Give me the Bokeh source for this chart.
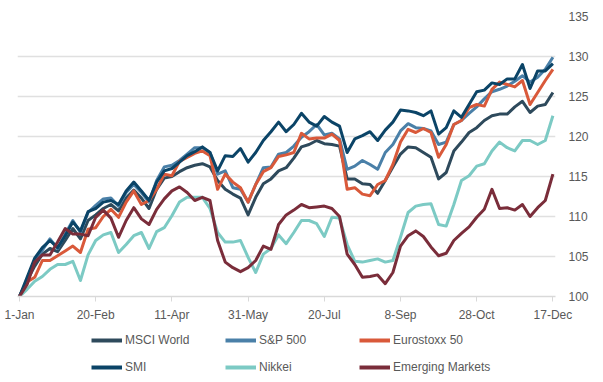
from bokeh.plotting import figure
from bokeh.models import Range1d, FixedTicker, Legend, LegendItem
from bokeh.layouts import column
from bokeh.embed import file_html
from bokeh.resources import INLINE

# calendar day offsets from 1-Jan (every 5 days)
days = list(range(0, 351, 5))

tick_days = [0, 50, 100, 150, 200, 250, 300, 350]
tick_labels = ["1-Jan", "20-Feb", "11-Apr", "31-May", "20-Jul", "8-Sep", "28-Oct", "17-Dec"]
y_ticks = [100, 105, 110, 115, 120, 125, 130, 135]

msci_world = [100, 102, 103.8, 105.3, 106, 105.6, 107, 108.5, 107.2, 109.5,
              110.2, 111, 111.5, 110.7, 112.3, 113.3, 112.3, 111, 113.4, 114.8,
              115, 115.6, 116.1, 116.4, 116.6, 116.2, 114.5, 113.4, 112.8, 112.3,
              110.2, 112.4, 114.1, 114.7, 115.7, 116.1, 117.3, 118.7, 119, 119.5,
              119.1, 119, 118.8, 114.7, 114.7, 114.1, 114, 112.9, 114.5, 116.2,
              117.8, 118.7, 118.6, 118, 117.4, 114.7, 115.5, 118.2, 119.3, 120.5,
              121.1, 122, 122.6, 122.8, 122.8, 123.7, 124.4, 123, 123.8, 124,
              125.5]

sp500 = [100, 102, 104.5, 105.8, 107.2, 106, 107.8, 109.5, 108, 110.5,
         111.4, 112.2, 112.3, 111.3, 113, 114, 113, 111.8, 114.5, 116.2,
         116.4, 117, 117.8, 118.6, 118.6, 118, 115.3, 115.7, 113.6, 113.4,
         111.8, 114, 116.1, 116.2, 117.8, 118, 118.8, 119.9, 120.6, 121.5,
         120.2, 120.4, 119.7, 115.9, 116.3, 117, 116.5, 115.9, 118, 119,
         120.7, 121.6, 121.1, 121, 120.7, 119, 119.3, 121.5, 122, 122.9,
         123.7, 124.7, 125.6, 125.9, 126.3, 126.9, 127.6, 126.8, 127.4, 128.4,
         129.9]

eurostoxx50 = [100, 101.8, 102.4, 104.5, 104.5, 105.1, 105.7, 106.3, 105.5, 108.4,
               108.6, 110, 110.9, 109.9, 111.8, 113.2, 111.5, 112, 113.4, 115.3,
               115.1, 116.9, 117.4, 117.9, 118.2, 117.6, 113.4, 115.3, 114.3, 113.6,
               111.8, 114, 115.6, 116.1, 117.5, 117.7, 118, 120.4, 119.7, 119.8,
               119.8, 120.3, 119.5, 113.4, 113.6, 112.8, 112.6, 114, 114.5, 116.5,
               119.3, 120.9, 120.5, 121, 120.5, 117.4, 119, 121.5, 122, 123.6,
               124, 123.8, 125.9, 126.8, 126.5, 126.2, 127, 124, 125.5, 127,
               128.4]

smi = [100, 102.4, 104.8, 106.1, 107, 106.1, 107.6, 109.3, 108.2, 110.6,
       111, 111.8, 112, 111.5, 113.2, 114.3, 113.2, 112, 114.3, 115.7,
       116, 116.8, 117.6, 118.1, 118.7, 118, 115.7, 117.6, 117.5, 118.5,
       116.8, 118, 119.5, 120.6, 121.8, 120.6, 121.5, 122.9, 121.8, 121.3,
       122.5, 121.8, 121.3, 118, 119.7, 120.1, 120.6, 119.5, 120.8, 121.8,
       123.3, 123.2, 123, 122.6, 123.2, 120.3, 121.1, 123.2, 122.4, 124,
       125.6, 125.8, 126.7, 126.5, 127.2, 127.2, 129, 126, 128.2, 128.2,
       129.1]

nikkei = [100, 100.9, 101.9, 102.5, 103.4, 104, 104, 104.4, 102, 105.2,
          107, 107.7, 108, 105.5, 106.5, 107.6, 108, 106, 108.1, 108.6,
          110.1, 111.8, 112.4, 112.4, 112.4, 111, 108, 106.8, 106.8, 107,
          104.9, 103, 105.3, 106, 107.7, 106.6, 108, 109.5, 109.5, 109.1,
          107.5, 109.9, 109.8, 106.5, 104.4, 104.3, 104.5, 104.7, 104.3, 104.5,
          107.4, 110.5, 111.3, 111.5, 111.6, 109, 108.8, 111.5, 114.5, 115.1,
          116.3, 116.6, 118.2, 119.3, 118.6, 118.2, 119.5, 119.5, 119, 119.5,
          122.6]

emerging = [100, 101.5, 104.3, 105.2, 105.2, 106.8, 108.5, 107.8, 107.8, 107.6,
            109.9, 110.8, 109.8, 107.4, 109.5, 111.1, 109.7, 109, 110.9, 112.2,
            113.2, 113.7, 113, 112, 112.4, 112, 107, 104.3, 103.6, 103.1,
            103.6, 104.5, 106.3, 105.9, 109, 110.2, 110.8, 111.5, 111.1, 111.2,
            111.3, 111, 110, 105.3, 104, 102.4, 102.5, 102.7, 101.6, 103,
            106.3, 107.6, 108.2, 107.5, 106.2, 105.1, 105.4, 107, 107.9, 108.7,
            109.9, 110.9, 113.4, 111, 111.1, 110.8, 111.5, 110, 111.1, 112,
            115.3]

series_names = ["MSCI World", "S&P 500", "Eurostoxx 50", "SMI", "Nikkei", "Emerging Markets"]
series_values = [msci_world, sp500, eurostoxx50, smi, nikkei, emerging]
series_colors = ["#2E4A5C", "#4A80A8", "#D9593A", "#0B4467", "#7CCAC4", "#7A2D3A"]

FONT = "Liberation Sans"
TXT = "#595959"

# ---------------- main chart ----------------
p = figure(width=603, height=326, output_backend="svg", toolbar_location=None,
           y_axis_location="right",
           x_range=Range1d(-1.3, 351.7), y_range=Range1d(100, 135),
           min_border_left=17, min_border_right=48, min_border_top=16, min_border_bottom=30)
p.outline_line_color = None
p.background_fill_color = "white"
p.border_fill_color = "white"

for name, vals, col in zip(series_names, series_values, series_colors):
    p.line(days, vals, line_color=col, line_width=3, line_join="round")

p.xgrid.visible = False
p.ygrid.ticker = FixedTicker(ticks=y_ticks)
p.ygrid.grid_line_color = "#E0E0E0"
p.ygrid.grid_line_width = 1.5

xa = p.xaxis[0]
xa.ticker = FixedTicker(ticks=tick_days)
xa.major_label_overrides = {d: l for d, l in zip(tick_days, tick_labels)}
xa.axis_line_color = "#D9D9D9"
xa.axis_line_width = 1.5
xa.major_tick_line_color = "#D9D9D9"
xa.major_tick_out = 5
xa.major_tick_in = 0
xa.minor_tick_line_color = None
xa.major_label_standoff = 6
xa.major_label_text_font = FONT
xa.major_label_text_font_size = "12px"
xa.major_label_text_color = TXT

ya = p.yaxis[0]
ya.ticker = FixedTicker(ticks=y_ticks)
ya.axis_line_color = None
ya.major_tick_line_color = None
ya.minor_tick_line_color = None
ya.major_label_standoff = 7
ya.major_label_text_font = FONT
ya.major_label_text_font_size = "12px"
ya.major_label_text_color = TXT

# ---------------- legend strip ----------------
lg = figure(width=603, height=56, output_backend="svg", toolbar_location=None,
            x_axis_location=None, y_axis_location=None,
            x_range=Range1d(0, 1), y_range=Range1d(0, 1),
            min_border_left=0, min_border_right=0, min_border_top=0, min_border_bottom=0)
lg.outline_line_color = None
lg.xgrid.visible = False
lg.ygrid.visible = False
lg.background_fill_color = "white"
lg.border_fill_color = "white"

items = []
for name, vals, col in zip(series_names, series_values, series_colors):
    r = lg.line(days, vals, line_color=col, line_width=4, visible=False)
    items.append(LegendItem(label=name, renderers=[r]))

legend = Legend(items=items, ncols=3, orientation="horizontal",
                location=(74, 2), glyph_width=31, glyph_height=26,
                label_height=26, label_width=99, label_standoff=3,
                spacing=1, padding=0, margin=0,
                border_line_color=None, background_fill_alpha=0,
                label_text_font=FONT, label_text_font_size="12px",
                label_text_color=TXT)
lg.add_layout(legend, "center")

layout = column(p, lg, spacing=0)
open("out.html", "w").write(file_html(layout, INLINE))
